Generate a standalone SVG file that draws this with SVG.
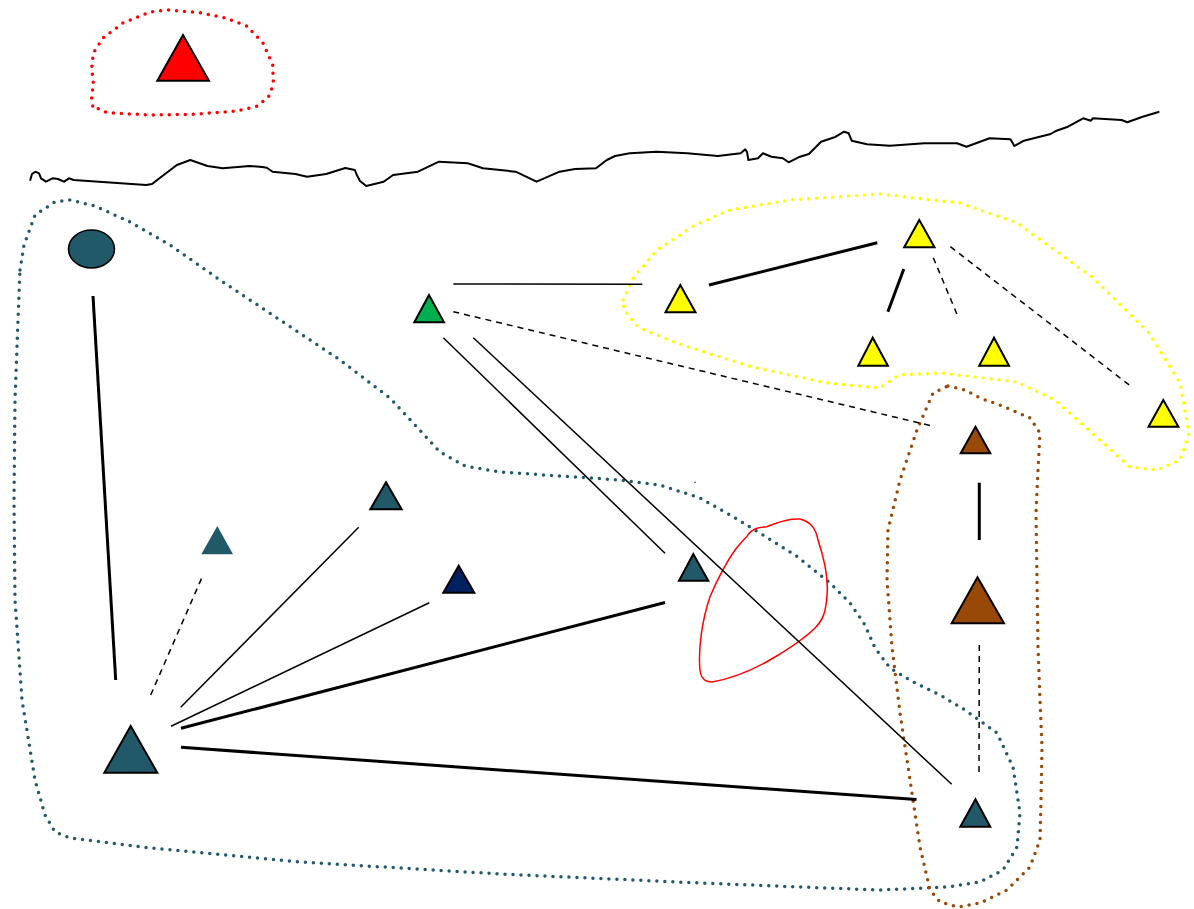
<svg xmlns="http://www.w3.org/2000/svg" width="1194" height="909" viewBox="0 0 1194 909">
<style>
.tri{stroke:#000;stroke-width:2;stroke-linejoin:miter}
.teal{fill:#215968}
.yel{fill:#ffff00}
.brn{fill:#984807}
.c{fill:none;stroke:#000;stroke-linecap:butt}
.thin{stroke-width:1.5}
.thick{stroke-width:3}
.dash{stroke-width:1.5;stroke-dasharray:6 5}
.dot{fill:none;stroke-width:3.5;stroke-linecap:round;stroke-linejoin:round;stroke-dasharray:0 8}
</style>
<rect width="1194" height="909" fill="#fff"/>
<g id="groups">
<path id="red-loop" class="dot" stroke="#ff0000" d="M92.7,106 L91.7,98 L93.3,83 L91.7,68 L93.3,53 L103,38 L123,23 L150,12 L168,10 L200,12.7 L226.7,18.3 L246.7,26 L263,43 L272.7,65 L273.3,82 L270,95 L258,106 L236.7,111 L193.3,114.3 L150,115 L106.7,112.7 Z"/>
<path id="teal-loop" class="dot" stroke="#215968" d="M20,270 L24,245 L35,215 L55,202 L70,200 L95,206 L130,222 L170,245 L220,280 L280,320 L340,360 L390,398 L415,425 L440,452 L465,466 L500,472 L560,476 L620,480 L660,485 L700,498 L730,515 L755,530 L795,555 L830,583 L850,603 L865,625 L875,648 L890,668 L913,682 L940,695 L965,710 L997,733 L1013,767 L1020,813 L1017,847 L1003,870 L980,882 L947,887 L880,890 L800,887 L700,883 L500,874 L300,862 L150,848 L70,838 L55,832 L45,815 L35,780 L22,700 L15,600 L14,500 L15,400 L18,320 Z"/>
<path id="brown-loop" class="dot" stroke="#984807" d="M948,386 L965,390 L980,398 L1005,407 L1030,418 L1040,433 L1038,470 L1036,513 L1037,580 L1038,647 L1040,700 L1042,747 L1041,800 L1040,840 L1030,867 L1007,890 L980,903 L958,907 L940,902 L930,890 L920,847 L910,780 L900,713 L892,647 L887,580 L888,530 L900,480 L917,430 L933,393 Z"/>
<path id="yellow-loop" class="dot" stroke="#ffff00" d="M623,300 L634,277 L657,250 L695,225 L730,210 L790,200 L880,194 L960,203 L1017,223 L1092,277 L1149,333 L1180,383 L1189,433 L1180,460 L1157,470 L1130,467 L1092,433 L1055,400 L1017,382 L941,373 L899,375 L880,388 L827,383 L752,367 L676,343 L638,327 L624,310 Z"/>
<path id="red-freeform" fill="none" stroke="#ff0000" stroke-width="1.5" d="M746.7,536.7 C752,528 760,527 766.7,526.7 C775,524 785,518 800,519 C812,522 816,530 818,540 C823,555 829,575 827,595 C826,612 823,620 815,628 C805,638 790,648 775,657 C760,666 735,678 712,682 C705,682 701,679 700,670 C698,650 702,620 710,596.7 C718,578 728,560 735,550 C740,544 743,540 746.7,536.7 Z"/>
</g>
<g id="boundary">
<path fill="none" stroke="#000" stroke-width="2" stroke-linejoin="round" stroke-linecap="round" d="M30.3,180 L32,174 L35.3,171.7 L39.1,173.3 L41,178.3 L46,181.7 L52.5,178.3 L58,179 L64,181.7 L69,178.3 L73.6,180 L146.3,185 L152,184 L165,174 L176.9,165 L190.3,160 L207.5,166 L222.8,168.3 L249.6,166 L262,167 L266.8,167.7 L272.6,171.7 L295.5,174 L307,176.7 L326.2,174 L345.3,168 L354.9,170 L356.8,175 L360,181 L366.3,186 L383.6,181.7 L393.1,175 L418,171.7 L439,161.7 L467.8,163.3 L483,168.3 L515.6,171.7 L536.6,181.7 L559.6,171.7 L575,169 L596,168.3 L606.8,160 L615,156 L629.8,153.3 L656.5,151.7 L687.2,153.3 L717.8,156 L740.7,153.3 L745.3,149.3 L747,152 L748.4,160 L758,158.3 L762.9,153.3 L771.4,156.7 L782.8,158.3 L788.6,162.3 L800,156.7 L808.9,154 L821.1,141.7 L834.5,137.3 L844.1,131.7 L848.7,133.3 L851.7,140.7 L867,144.3 L890,145.7 L924.4,143.3 L957,143.3 L966.5,146.7 L989.5,138.3 L1010.5,139.3 L1014.4,146 L1023.9,140.7 L1050.7,134 L1056.5,130.7 L1067.9,126.7 L1083.2,118.3 L1090.9,120.7 L1092.8,118.3 L1121.5,120 L1127.3,122.3 L1142.6,116.7 L1158.6,112"/>
</g>
<g id="connectors">
<line class="c thick" x1="93" y1="296" x2="115.7" y2="680"/>
<line class="c dash" x1="150.7" y1="695" x2="202.3" y2="576.7"/>
<line class="c thin" x1="180.7" y1="707.3" x2="358.7" y2="527.3"/>
<line class="c thin" x1="171" y1="726.3" x2="429.3" y2="602.7"/>
<line class="c thick" x1="181" y1="728.3" x2="665" y2="602.5"/>
<line class="c thick" x1="181" y1="747.3" x2="916.5" y2="799.5"/>
<line class="c thin" x1="453.3" y1="284" x2="642.3" y2="284.3"/>
<line class="c dash" x1="453.3" y1="311.7" x2="935" y2="426.7"/>
<line class="c thin" x1="443.3" y1="337.7" x2="665" y2="553.3"/>
<line class="c thin" x1="473.3" y1="337.7" x2="951.7" y2="784.3"/>
<line class="c thick" x1="709" y1="285" x2="877.3" y2="242.7"/>
<line class="c thick" x1="903.8" y1="269" x2="887.9" y2="311.7"/>
<line class="c dash" x1="933.3" y1="257.7" x2="958" y2="316.7"/>
<line class="c dash" x1="950.4" y1="246.7" x2="1132.2" y2="387.3"/>
<line class="c thick" x1="979.3" y1="482.7" x2="979.3" y2="540"/>
<line class="c dash" x1="979.3" y1="645" x2="979" y2="772.7"/>
<line class="c thin" x1="694.6" y1="482" x2="695.4" y2="482.6"/>
</g>
<g id="n-red"><polygon class="tri" fill="#ff0000" points="183,35 157.3,80.7 209,80.7"/></g>
<g id="n-ellipse"><ellipse class="teal" stroke="#000" stroke-width="1.5" cx="91.5" cy="249" rx="23" ry="19"/></g>
<g id="n-green"><polygon class="tri" fill="#00b050" points="429,295 414.3,322.3 444,322.3"/></g>
<g id="n-y1"><polygon class="tri yel" points="680.3,285 665.5,312.3 695.5,312.3"/></g>
<g id="n-y2"><polygon class="tri yel" points="919.3,220 904.2,247.3 934.5,247.3"/></g>
<g id="n-y3"><polygon class="tri yel" points="872.7,337.7 858.3,365.7 887.9,365.7"/></g>
<g id="n-y4"><polygon class="tri yel" points="994,337.7 979.2,365.7 1009,365.7"/></g>
<g id="n-y5"><polygon class="tri yel" points="1163.3,400 1148.5,426.7 1178.4,426.7"/></g>
<g id="n-b1"><polygon class="tri brn" points="975.5,426.7 960.7,453.3 990.3,453.3"/></g>
<g id="n-b2"><polygon class="tri brn" points="977.5,577.3 951.7,623.3 1004,623.3"/></g>
<g id="n-t1"><polygon class="tri teal" points="975.5,799.3 960.3,826.7 990.3,826.7"/></g>
<g id="n-t2"><polygon class="tri teal" points="386,482.3 370.3,509.3 401.7,509.3"/></g>
<g id="n-t3"><polygon class="teal" points="217.3,526 201.3,554.3 233,554.3"/></g>
<g id="n-navy"><polygon class="tri" fill="#002060" points="458.7,565.7 443.3,592.7 474.3,592.7"/></g>
<g id="n-t4"><polygon class="tri teal" points="693.3,554 679,580.7 708.3,580.7"/></g>
<g id="n-tbig"><polygon class="tri teal" points="130.7,726 104.3,772.7 157.3,772.7"/></g>
</svg>
